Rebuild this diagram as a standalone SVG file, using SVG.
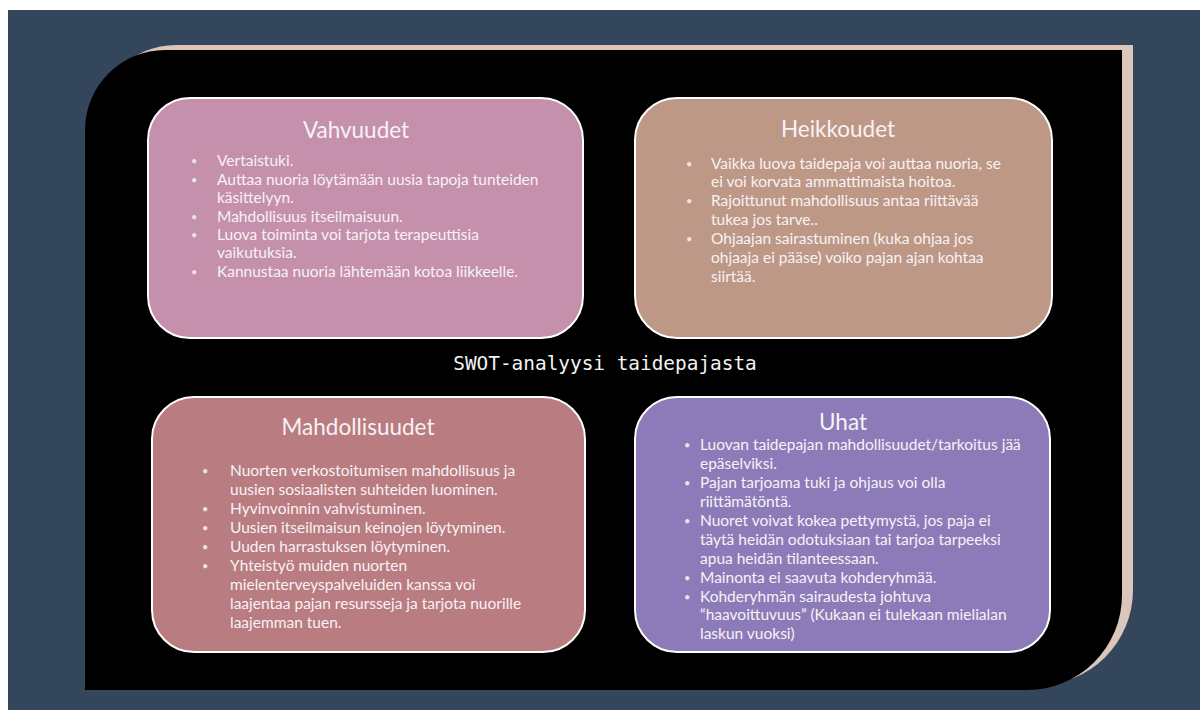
<svg xmlns="http://www.w3.org/2000/svg" width="1200" height="710" viewBox="0 0 1200 710">
<style>
.box{stroke:#ffffff;stroke-width:2}
.ttl{font-family:Lato,"Noto Sans",sans-serif;font-size:22.5px;fill:#f7f2f4;text-anchor:middle}
.txt{font-family:Lato,"Noto Sans",sans-serif;font-size:15.5px;fill:#f7f2f4}
.b{font-size:11px;fill:#ede4e8}
.mono{font-family:"DejaVu Sans Mono","Liberation Mono",monospace;font-size:19.4px;fill:#f2f2f2;text-anchor:middle}
</style>
<rect x="0" y="0" width="1200" height="710" fill="#ffffff"/>
<rect x="8" y="10" width="1192" height="700" fill="#34465c"/>
<g id="frame">
<path d="M85,130 A80,80 0 0 1 165,50 H1122 V595 A95,95 0 0 1 1027,690 H85 Z" fill="#dcc6bb" transform="translate(11,-5)"/>
<path d="M85,130 A80,80 0 0 1 165,50 H1122 V595 A95,95 0 0 1 1027,690 H85 Z" fill="#000000"/>
</g>
<g id="vahvuudet">
<rect class="box" x="148" y="98" width="435" height="240" rx="42" fill="#c490ab"/>
<text class="ttl" x="356" y="138">Vahvuudet</text>
<g class="txt">
<text class="b" x="191" y="165">•</text><text x="217" y="166">Vertaistuki.</text>
<text class="b" x="191" y="183.5">•</text><text x="217" y="184.5">Auttaa nuoria löytämään uusia tapoja tunteiden</text>
<text x="217" y="203">käsittelyyn.</text>
<text class="b" x="191" y="221">•</text><text x="217" y="222">Mahdollisuus itseilmaisuun.</text>
<text class="b" x="191" y="239">•</text><text x="217" y="240">Luova toiminta voi tarjota terapeuttisia</text>
<text x="217" y="258">vaikutuksia.</text>
<text class="b" x="191" y="276">•</text><text x="217" y="277">Kannustaa nuoria lähtemään kotoa liikkeelle.</text>
</g>
</g>
<g id="heikkoudet">
<rect class="box" x="635" y="98" width="417" height="240" rx="42" fill="#be9886"/>
<text class="ttl" x="838" y="137">Heikkoudet</text>
<g class="txt">
<text class="b" x="686" y="168">•</text><text x="711" y="169">Vaikka luova taidepaja voi auttaa nuoria, se</text>
<text x="711" y="187">ei voi korvata ammattimaista hoitoa.</text>
<text class="b" x="686" y="205">•</text><text x="711" y="206">Rajoittunut mahdollisuus antaa riittävää</text>
<text x="711" y="225">tukea jos tarve..</text>
<text class="b" x="686" y="243">•</text><text x="711" y="244">Ohjaajan sairastuminen (kuka ohjaa jos</text>
<text x="711" y="263">ohjaaja ei pääse) voiko pajan ajan kohtaa</text>
<text x="711" y="282">siirtää.</text>
</g>
</g>
<text id="title" class="mono" x="605" y="370">SWOT-analyysi taidepajasta</text>
<g id="mahdollisuudet">
<rect class="box" x="152" y="397" width="433" height="255" rx="42" fill="#b97c81"/>
<text class="ttl" x="358" y="435">Mahdollisuudet</text>
<g class="txt">
<text class="b" x="202" y="475">•</text><text x="230" y="476">Nuorten verkostoitumisen mahdollisuus ja</text>
<text x="230" y="495">uusien sosiaalisten suhteiden luominen.</text>
<text class="b" x="202" y="513">•</text><text x="230" y="514">Hyvinvoinnin vahvistuminen.</text>
<text class="b" x="202" y="532">•</text><text x="230" y="533">Uusien itseilmaisun keinojen löytyminen.</text>
<text class="b" x="202" y="551">•</text><text x="230" y="552">Uuden harrastuksen löytyminen.</text>
<text class="b" x="202" y="570">•</text><text x="230" y="571">Yhteistyö muiden nuorten</text>
<text x="230" y="589.5">mielenterveyspalveluiden kanssa voi</text>
<text x="230" y="608.5">laajentaa pajan resursseja ja tarjota nuorille</text>
<text x="230" y="627.5">laajemman tuen.</text>
</g>
</g>
<g id="uhat">
<rect class="box" x="635" y="397" width="415" height="255" rx="42" fill="#8c7bb8"/>
<text class="ttl" x="843" y="430">Uhat</text>
<g class="txt">
<text class="b" x="684" y="448.5">•</text><text x="700" y="449.5">Luovan taidepajan mahdollisuudet/tarkoitus jää</text>
<text x="700" y="468.5">epäselviksi.</text>
<text class="b" x="684" y="486.5">•</text><text x="700" y="487.5">Pajan tarjoama tuki ja ohjaus voi olla</text>
<text x="700" y="506.5">riittämätöntä.</text>
<text class="b" x="684" y="524.5">•</text><text x="700" y="525.5">Nuoret voivat kokea pettymystä, jos paja ei</text>
<text x="700" y="544.5">täytä heidän odotuksiaan tai tarjoa tarpeeksi</text>
<text x="700" y="563.5">apua heidän tilanteessaan.</text>
<text class="b" x="684" y="581.5">•</text><text x="700" y="582.5">Mainonta ei saavuta kohderyhmää.</text>
<text class="b" x="684" y="600.5">•</text><text x="700" y="601.5">Kohderyhmän sairaudesta johtuva</text>
<text x="700" y="620">“haavoittuvuus”  (Kukaan ei tulekaan mielialan</text>
<text x="700" y="639">laskun vuoksi)</text>
</g>
</g>
</svg>
